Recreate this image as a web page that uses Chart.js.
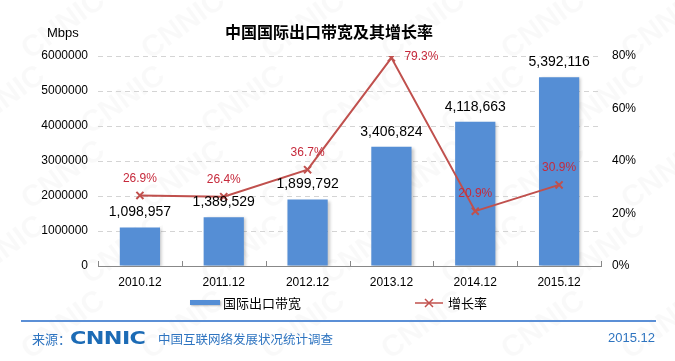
<!DOCTYPE html>
<html>
<head>
<meta charset="utf-8">
<script src="https://cdn.jsdelivr.net/npm/chart.js@4/dist/chart.umd.min.js"></script>
<style>
  body { margin: 0; background: #fff; }
  #wrap { position: relative; width: 675px; height: 361px; overflow: hidden; }
  canvas { position: absolute; left: 0; top: 0; }
  .txt { position: absolute; white-space: nowrap; line-height: 1; }
  #title { left: 225px; top: 19px; font: bold 16px "Noto Sans CJK SC", sans-serif; color: #000; }
  #unit { left: 47px; top: 25px; font: 13px "Liberation Sans", Arial, sans-serif; color: #000; }
  #rule { position: absolute; left: 21px; top: 320px; width: 635px; height: 2px; background: #5b8fd6; }
  #src { left: 32px; top: 329px; font: 13px "Noto Sans CJK SC", sans-serif; color: #2e74c0; }
  #logo { left: 70px; top: 327px; font: bold 18px "DejaVu Sans", sans-serif; color: #1c6bb5;
          transform: scaleX(1.24); transform-origin: left top; letter-spacing: -0.5px; }
  #survey { left: 158px; top: 329px; font: 12.5px "Noto Sans CJK SC", sans-serif; color: #2e74c0; }
  #date { right: 20px; top: 330px; font: 13px "Liberation Sans", Arial, sans-serif; color: #2e74c0; }
</style>
</head>
<body>
<div id="wrap">
  <canvas id="chart" width="675" height="361"></canvas>
  <div class="txt" id="title">中国国际出口带宽及其增长率</div>
  <div class="txt" id="unit">Mbps</div>
  <div id="rule"></div>
  <div class="txt" id="src">来源：</div>
  <div class="txt" id="logo">CNNIC</div>
  <div class="txt" id="survey">中国互联网络发展状况统计调查</div>
  <div class="txt" id="date">2015.12</div>
</div>
<script>
const categories = ["2010.12", "2011.12", "2012.12", "2013.12", "2014.12", "2015.12"];
const bandwidth = [1098957, 1389529, 1899792, 3406824, 4118663, 5392116];
const growthRate = [26.9, 26.4, 36.7, 79.3, 20.9, 30.9];
const barLabel = "国际出口带宽";
const lineLabel = "增长率";

const barColor = "#558ED5";
const lineColor = "#C0504D";
const rateTextColor = "#C62A3C";
const latin = '"Liberation Sans", Arial, sans-serif';
const cjk = '"Noto Sans CJK SC", sans-serif';

// faint diagonal CNNIC watermark behind everything
const watermark = {
  id: "watermark",
  beforeDraw(chart) {
    const ctx = chart.ctx;
    ctx.save();
    ctx.fillStyle = "#fff";
    ctx.fillRect(0, 0, chart.width, chart.height);
    ctx.fillStyle = "rgba(0,0,0,0.022)";
    ctx.font = "bold 30px " + latin;
    for (let row = -1; row < 6; row++) {
      for (let col = -1; col < 7; col++) {
        ctx.save();
        ctx.translate(col * 120 + (row % 2) * 60 + 30, row * 75 + 60);
        ctx.rotate(-Math.PI / 5);
        ctx.fillText("CNNIC", 0, 0);
        ctx.restore();
      }
    }
    ctx.restore();
  }
};

// small inward ticks between categories on the x axis
const catTicks = {
  id: "catTicks",
  afterDraw(chart) {
    const x = chart.scales.x;
    const ctx = chart.ctx;
    const bottom = chart.chartArea.bottom;
    ctx.save();
    ctx.strokeStyle = "#888";
    ctx.lineWidth = 1;
    for (let i = 0; i <= categories.length; i++) {
      const px = Math.round(x.getPixelForValue(i - 0.5)) + 0.5;
      ctx.beginPath();
      ctx.moveTo(px, bottom);
      ctx.lineTo(px, bottom - 5);
      ctx.stroke();
    }
    ctx.restore();
  }
};

const bar_shadow = {
  id: "barShadow",
  beforeDatasetDraw(chart, args) {
    if (chart.data.datasets[args.index].type !== "bar") return;
    const ctx = chart.ctx;
    ctx.save();
    ctx.shadowColor = "rgba(0,0,0,0.22)";
    ctx.shadowBlur = 3;
    ctx.shadowOffsetX = 2;
    ctx.shadowOffsetY = 1;
  },
  afterDatasetDraw(chart, args) {
    if (chart.data.datasets[args.index].type !== "bar") return;
    chart.ctx.restore();
  }
};

const valueLabels = {
  id: "valueLabels",
  afterDatasetsDraw(chart) {
    const ctx = chart.ctx;
    const area = chart.chartArea;
    ctx.save();
    ctx.textBaseline = "middle";
    chart.data.datasets.forEach((ds, i) => {
      const meta = chart.getDatasetMeta(i);
      meta.data.forEach((el, j) => {
        const v = ds.data[j];
        if (ds.type === "bar") {
          ctx.font = "14px " + latin;
          ctx.fillStyle = "#000";
          ctx.textAlign = "center";
          ctx.fillText(v.toLocaleString("en-US"), el.x, el.y - 15);
        } else {
          ctx.font = "12px " + latin;
          ctx.fillStyle = rateTextColor;
          const txt = v.toFixed(1) + "%";
          if (el.y - 17 < area.top) {
            ctx.textAlign = "left";
            ctx.fillText(txt, el.x + 13, el.y - 1);
          } else {
            ctx.textAlign = "center";
            ctx.fillText(txt, el.x, el.y - 17);
          }
        }
      });
    });
    ctx.restore();
  }
};

const legendBox = {
  id: "legendBox",
  afterDraw(chart) {
    const ctx = chart.ctx;
    const y = 303;
    ctx.save();
    ctx.shadowColor = "rgba(0,0,0,0.25)";
    ctx.shadowBlur = 2;
    ctx.shadowOffsetX = 1;
    ctx.shadowOffsetY = 1;
    ctx.fillStyle = barColor;
    ctx.fillRect(190, y - 3, 30, 5);
    ctx.restore();

    ctx.save();
    ctx.strokeStyle = lineColor;
    ctx.lineWidth = 1.5;
    ctx.beginPath();
    ctx.moveTo(415, y);
    ctx.lineTo(443, y);
    ctx.stroke();
    ctx.beginPath();
    ctx.moveTo(425, y - 4); ctx.lineTo(433, y + 4);
    ctx.moveTo(433, y - 4); ctx.lineTo(425, y + 4);
    ctx.stroke();

    ctx.fillStyle = "#000";
    ctx.font = "13px " + cjk;
    ctx.textBaseline = "middle";
    ctx.textAlign = "left";
    ctx.fillText(barLabel, 223, y);
    ctx.fillText(lineLabel, 448, y);
    ctx.restore();
  }
};

new Chart(document.getElementById("chart"), {
  data: {
    labels: categories,
    datasets: [
      {
        type: "line",
        label: lineLabel,
        data: growthRate,
        yAxisID: "y1",
        borderColor: lineColor,
        borderWidth: 2,
        pointStyle: "crossRot",
        pointRadius: 5,
        pointBorderWidth: 2,
        pointBorderColor: lineColor,
        tension: 0,
        order: 1,
      },
      {
        type: "bar",
        label: barLabel,
        data: bandwidth,
        yAxisID: "y",
        backgroundColor: barColor,
        barPercentage: 0.48,
        categoryPercentage: 1,
        order: 2,
      },
    ],
  },
  options: {
    responsive: false,
    animation: false,
    devicePixelRatio: 1,
    layout: { padding: { top: 56, left: 0, right: 0, bottom: 0 } },
    plugins: { legend: { display: false }, tooltip: { enabled: false } },
    scales: {
      x: {
        offset: true,
        grid: { display: false, drawTicks: false },
        border: { display: true, color: "#888", width: 1 },
        ticks: { color: "#000", font: { family: latin, size: 12 }, padding: 9 },
        afterFit: (s) => { s.height = 95; },
      },
      y: {
        position: "left",
        min: 0,
        max: 6000000,
        ticks: {
          stepSize: 1000000,
          color: "#000",
          font: { family: latin, size: 12 },
          padding: 10,
          callback: (v) => String(v),
        },
        grid: {
          drawTicks: false,
          color: (c) => (c.tick && c.tick.value === 0 ? "rgba(0,0,0,0)" : "#d4d4d4"),
        },
        border: { display: false, dash: [5, 4] },
        afterFit: (s) => { s.width = 98; },
      },
      y1: {
        position: "right",
        min: 0,
        max: 80,
        ticks: {
          stepSize: 20,
          color: "#000",
          font: { family: latin, size: 12 },
          padding: 11,
          callback: (v) => v + "%",
        },
        grid: { display: false, drawTicks: false },
        border: { display: false },
        afterFit: (s) => { s.width = 74; },
      },
    },
  },
  plugins: [watermark, bar_shadow, catTicks, valueLabels, legendBox],
});
</script>
</body>
</html>
